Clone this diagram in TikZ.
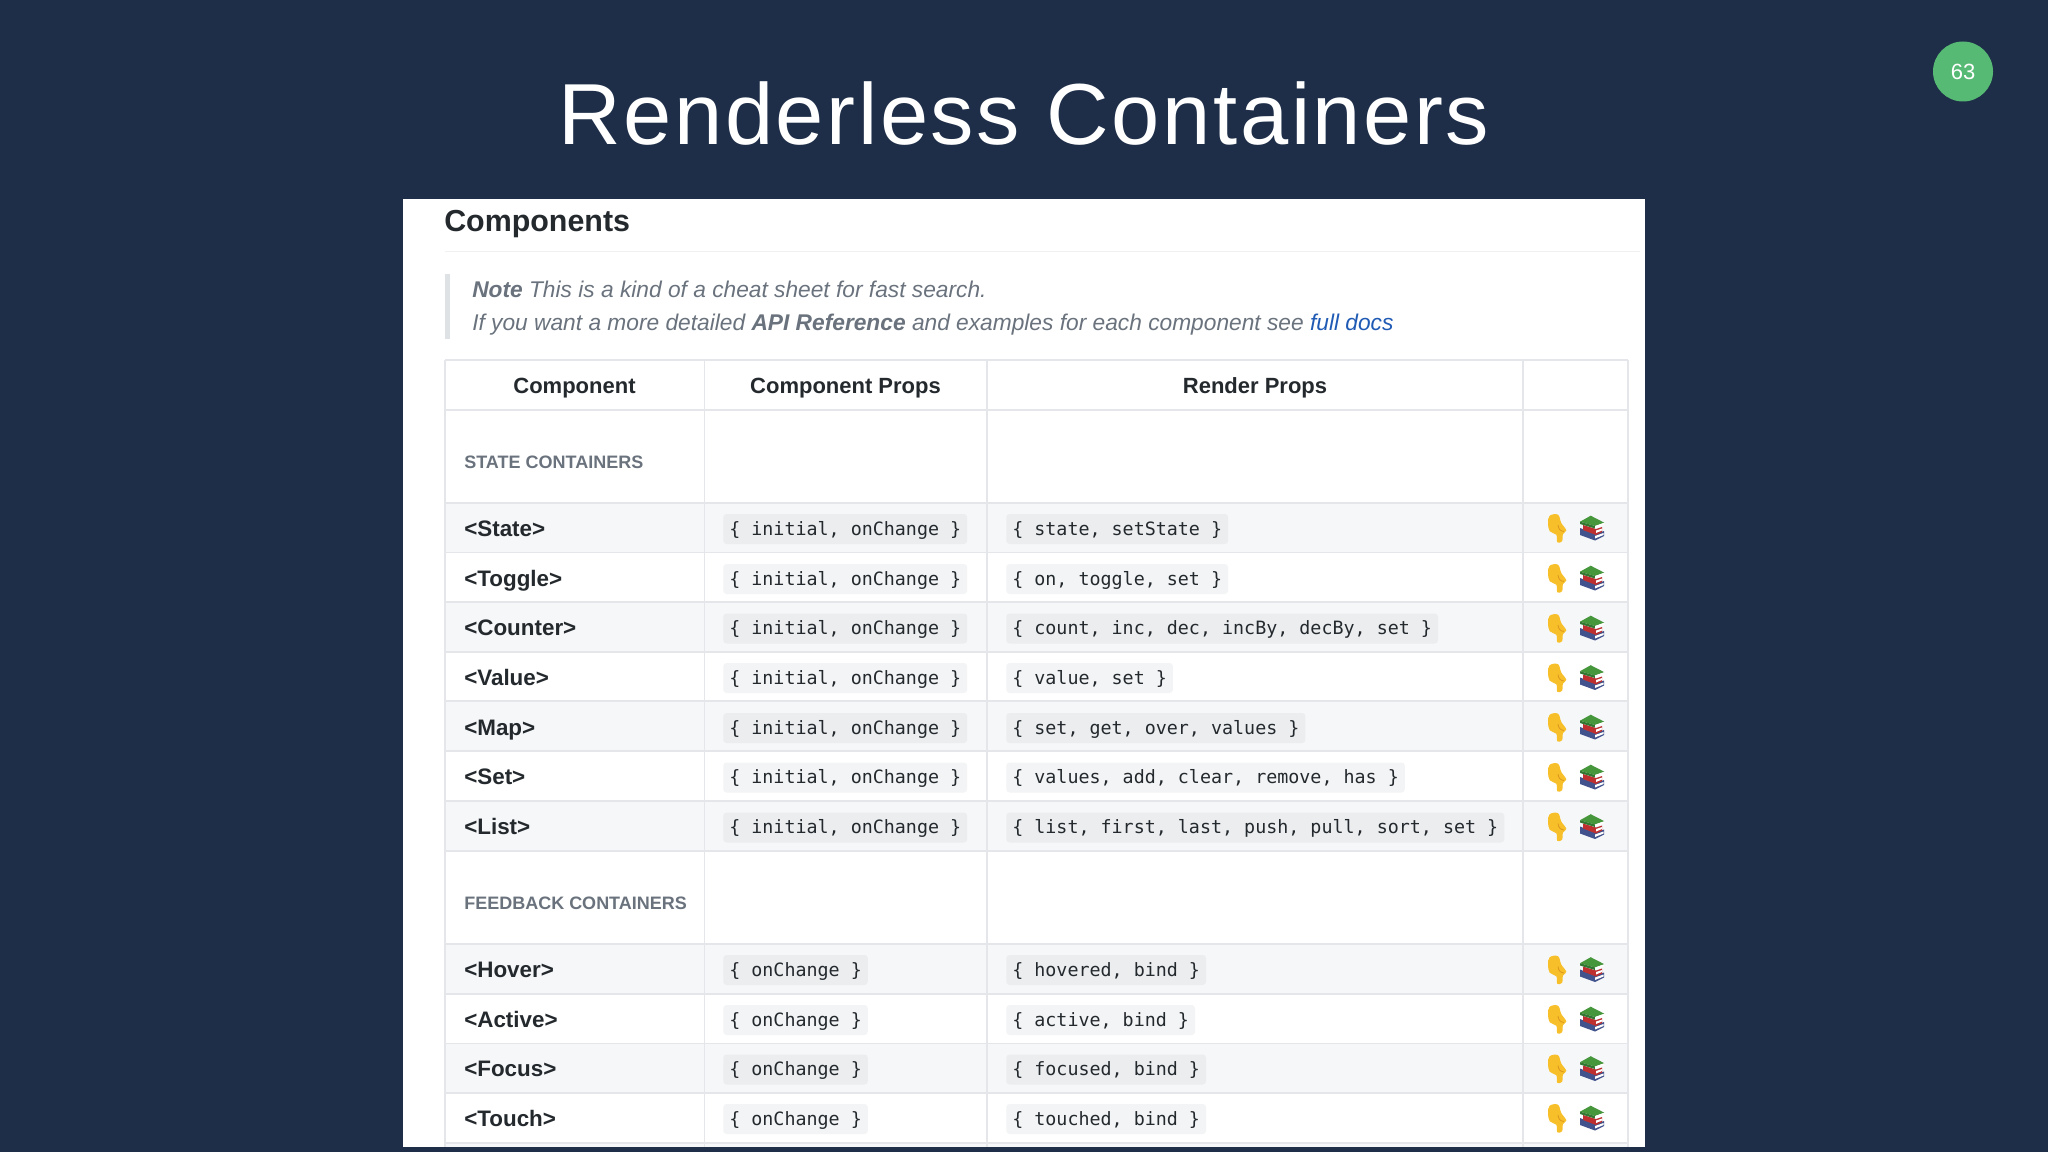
\documentclass[tikz,border=0pt]{standalone}
\usepackage{fontspec}
\setmainfont{Liberation Sans}
\setmonofont{DejaVu Sans Mono}
\newfontfamily\slidetitlefont[LetterSpace=3]{Liberation Sans}
\definecolor{slidebg}{RGB}{30,46,72}
\definecolor{badgegreen}{RGB}{87,186,116}
\definecolor{inkdark}{RGB}{36,41,46}
\definecolor{inkgrey}{RGB}{106,115,125}
\definecolor{rulegrey}{RGB}{228,230,234}
\definecolor{stripegrey}{RGB}{246,247,249}
\definecolor{pilllight}{RGB}{243,244,245}
\definecolor{pilldark}{RGB}{235,237,239}
\definecolor{linkblue}{RGB}{31,90,180}
\tikzset{
  tableline/.style={draw=rulegrey,line width=1.2pt},
  headcell/.style={anchor=base,inner sep=0.75pt,text=inkdark,font=\fontsize{16.5}{20}\selectfont\bfseries},
  rowname/.style={anchor=base west,inner sep=0.75pt,text=inkdark,font=\fontsize{16.8}{20}\selectfont\bfseries},
  sectionname/.style={anchor=base west,inner sep=0.75pt,text=inkgrey,font=\fontsize{13.5}{16}\selectfont\bfseries},
  notetext/.style={anchor=base west,inner sep=0.75pt,text=inkgrey,font=\fontsize{17.05}{20}\selectfont\itshape},
  codepill/.style={anchor=west,fill=pilllight,rounded corners=2.5pt,inner xsep=4.5pt,inner ysep=0pt,text height=15.75pt,text depth=6.75pt,text=inkdark,font=\fontsize{13.76}{16}\ttfamily},
  codestripe/.style={codepill,fill=pilldark},
  pics/handicon/.style={code={
    \begin{scope}[yscale=-1]
    \fill [color={rgb,255:red,247;green,192;blue,42}] plot [smooth cycle,tension=0.6] coordinates {(-7.3,-12.3) (1,-13.3) (4.3,-5) (9.3,2.3) (6,6) (5,13.3) (0.3,14.3) (-0.7,6.7) (-7.3,3.3) (-9,-5)};
    \draw [color={rgb,255:red,222;green,150;blue,30},line width=0.6pt] (1,-3) .. controls (1.5,1) and (3,3) .. (7,3.5) ;
    \end{scope}
  }},
  pics/booksicon/.style={code={
    \begin{scope}[yscale=-1]
    \fill [color={rgb,255:red,66;green,82;blue,140}] (-12,0) -- (3,6) -- (12,3) -- (12,8) -- (3,12.5) -- (-12,7) -- cycle;
    \fill [white] (3,8) -- (11.5,5) -- (11.5,7) -- (3,10.5) -- cycle;
    \fill [color={rgb,255:red,190;green,48;blue,48}] (-9,-3) -- (4,1) -- (10,-1) -- (10,4) -- (4,7) -- (-9,2) -- cycle;
    \fill [white] (4,2.5) -- (10,0.5) -- (10,2.5) -- (4,5) -- cycle;
    \fill [color={rgb,255:red,70;green,150;blue,60}] (-12,-6.3) -- (-1.3,-12.3) -- (12.3,-5.3) -- (3,-2) -- cycle;
    \fill [color={rgb,255:red,50;green,120;blue,50}] (-12,-6.3) -- (3,-2) -- (3,0.5) -- (-12,-4) -- cycle;
    \fill [white] (3,-2) -- (12.3,-5.3) -- (12.3,-3.3) -- (3,0.5) -- cycle;
    \end{scope}
  }}
}

\begin{document}
\begin{tikzpicture}[x=0.75pt,y=0.75pt,yscale=-1,xscale=1]
%slide and page
\fill [slidebg] (0,0) rectangle (2048,1152) ;
\fill [white] (403,199) rectangle (1645,1147) ;

%row stripes
\fill [stripegrey] (445,503) rectangle (1628,552.5) ;
\fill [stripegrey] (445,602) rectangle (1628,652) ;
\fill [stripegrey] (445,701) rectangle (1628,751) ;
\fill [stripegrey] (445,801) rectangle (1628,851) ;
\fill [stripegrey] (445,944) rectangle (1628,994) ;
\fill [stripegrey] (445,1043.5) rectangle (1628,1093) ;
\fill [stripegrey] (445,1143) rectangle (1628,1147) ;

%heading rule and quote bar
\draw [color=rulegrey!60!white,line width=1.2pt] (445,251.5) -- (1640,251.5) ;
\fill [color={rgb,255:red,223;green,226;blue,229}] (445,274) rectangle (450,339) ;

%table rules
\draw [tableline] (445,360) -- (1628,360) ;
\draw [tableline] (445,410) -- (1628,410) ;
\draw [tableline] (445,503) -- (1628,503) ;
\draw [tableline] (445,552.5) -- (1628,552.5) ;
\draw [tableline] (445,602) -- (1628,602) ;
\draw [tableline] (445,652) -- (1628,652) ;
\draw [tableline] (445,701) -- (1628,701) ;
\draw [tableline] (445,751) -- (1628,751) ;
\draw [tableline] (445,801) -- (1628,801) ;
\draw [tableline] (445,851) -- (1628,851) ;
\draw [tableline] (445,944) -- (1628,944) ;
\draw [tableline] (445,994) -- (1628,994) ;
\draw [tableline] (445,1043.5) -- (1628,1043.5) ;
\draw [tableline] (445,1093) -- (1628,1093) ;
\draw [tableline] (445,1143) -- (1628,1143) ;
\draw [tableline] (445,360) -- (445,1147) ;
\draw [tableline] (704.5,360) -- (704.5,1147) ;
\draw [tableline] (987,360) -- (987,1147) ;
\draw [tableline] (1523,360) -- (1523,1147) ;
\draw [tableline] (1628,360) -- (1628,1147) ;

% Badge
\draw (1963,71.5) node (pageBadge) [circle,fill=badgegreen,minimum size=45pt,inner sep=0pt,text=white,font=\fontsize{16.5}{20}\selectfont] {63};

% Text Node
\draw (1024,144.5) node (slideTitle) [anchor=base,inner sep=0.75pt,text=white,font=\fontsize{65}{70}\slidetitlefont] {Renderless Containers};
% Text Node
\draw (444,231) node (pageHeading) [anchor=base west,inner sep=0pt,text=inkdark,font=\fontsize{22.8}{26}\selectfont\bfseries] {Components};
% Text Node
\draw (471,297.5) node (noteFirst) [notetext] {\textbf{Note} This is a kind of a cheat sheet for fast search.};
% Text Node
\draw (471,330) node (noteSecond) [notetext] {If you want a more detailed \textbf{API Reference} and examples for each component see \textcolor{linkblue}{full docs}};

% Text Node
\draw (574.5,393) node (headComponent) [headcell] {Component};
% Text Node
\draw (845.5,393) node (headProps) [headcell] {Component Props};
% Text Node
\draw (1255,393) node (headRender) [headcell] {Render Props};

% Text Node
\draw (463,468.5) node (stateSection) [sectionname] {STATE CONTAINERS};
% Text Node
\draw (463,909) node (feedbackSection) [sectionname] {FEEDBACK CONTAINERS};

% Text Node
\draw (463,536) node (stateName) [rowname] {<State>};
\draw (723,529) node (stateProps) [codestripe] {\{ initial, onChange \}};
\draw (1006,529) node (stateRender) [codestripe] {\{ state, setState \}};
\pic at (1557,528) {handicon};
\pic at (1592,528) {booksicon};
% Text Node
\draw (463,586) node (toggleName) [rowname] {<Toggle>};
\draw (723,579) node (toggleProps) [codepill] {\{ initial, onChange \}};
\draw (1006,579) node (toggleRender) [codepill] {\{ on, toggle, set \}};
\pic at (1557,578) {handicon};
\pic at (1592,578) {booksicon};
% Text Node
\draw (463,635) node (counterName) [rowname] {<Counter>};
\draw (723,628.5) node (counterProps) [codestripe] {\{ initial, onChange \}};
\draw (1006,628.5) node (counterRender) [codestripe] {\{ count, inc, dec, incBy, decBy, set \}};
\pic at (1557,628) {handicon};
\pic at (1592,628) {booksicon};
% Text Node
\draw (463,685) node (valueName) [rowname] {<Value>};
\draw (723,678) node (valueProps) [codepill] {\{ initial, onChange \}};
\draw (1006,678) node (valueRender) [codepill] {\{ value, set \}};
\pic at (1557,677.5) {handicon};
\pic at (1592,677.5) {booksicon};
% Text Node
\draw (463,735) node (mapName) [rowname] {<Map>};
\draw (723,728) node (mapProps) [codestripe] {\{ initial, onChange \}};
\draw (1006,728) node (mapRender) [codestripe] {\{ set, get, over, values \}};
\pic at (1557,727) {handicon};
\pic at (1592,727) {booksicon};
% Text Node
\draw (463,784) node (setName) [rowname] {<Set>};
\draw (723,777.5) node (setProps) [codepill] {\{ initial, onChange \}};
\draw (1006,777.5) node (setRender) [codepill] {\{ values, add, clear, remove, has \}};
\pic at (1557,777) {handicon};
\pic at (1592,777) {booksicon};
% Text Node
\draw (463,834) node (listName) [rowname] {<List>};
\draw (723,827.5) node (listProps) [codestripe] {\{ initial, onChange \}};
\draw (1006,827.5) node (listRender) [codestripe] {\{ list, first, last, push, pull, sort, set \}};
\pic at (1557,826.5) {handicon};
\pic at (1592,826.5) {booksicon};
% Text Node
\draw (463,977) node (hoverName) [rowname] {<Hover>};
\draw (723,970) node (hoverProps) [codestripe] {\{ onChange \}};
\draw (1006,970) node (hoverRender) [codestripe] {\{ hovered, bind \}};
\pic at (1557,969.5) {handicon};
\pic at (1592,969.5) {booksicon};
% Text Node
\draw (463,1027) node (activeName) [rowname] {<Active>};
\draw (723,1020) node (activeProps) [codepill] {\{ onChange \}};
\draw (1006,1020) node (activeRender) [codepill] {\{ active, bind \}};
\pic at (1557,1019) {handicon};
\pic at (1592,1019) {booksicon};
% Text Node
\draw (463,1076) node (focusName) [rowname] {<Focus>};
\draw (723,1069.5) node (focusProps) [codestripe] {\{ onChange \}};
\draw (1006,1069.5) node (focusRender) [codestripe] {\{ focused, bind \}};
\pic at (1557,1068.5) {handicon};
\pic at (1592,1068.5) {booksicon};
% Text Node
\draw (463,1126) node (touchName) [rowname] {<Touch>};
\draw (723,1119) node (touchProps) [codepill] {\{ onChange \}};
\draw (1006,1119) node (touchRender) [codepill] {\{ touched, bind \}};
\pic at (1557,1118) {handicon};
\pic at (1592,1118) {booksicon};

\end{tikzpicture}
\end{document}
